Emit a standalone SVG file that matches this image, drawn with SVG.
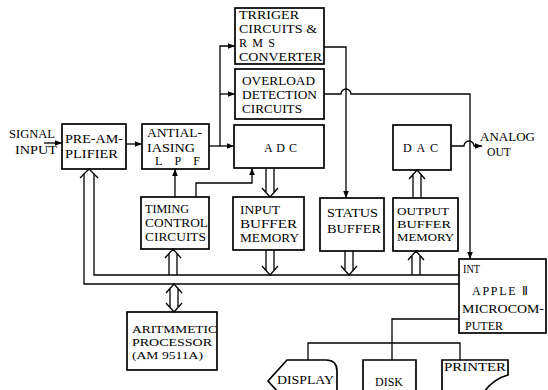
<svg xmlns="http://www.w3.org/2000/svg" width="548" height="390" viewBox="0 0 548 390">
<style>
.b{fill:none;stroke:#000;stroke-width:1.7}
.l{fill:none;stroke:#000;stroke-width:1.3}
text{font-family:"Liberation Serif","Times New Roman",serif;font-size:12px;fill:#000}
.s{font-size:11px}
</style>
<defs>
<marker id="a" viewBox="0 0 10 10" refX="10" refY="5" markerWidth="7" markerHeight="7" markerUnits="userSpaceOnUse" orient="auto">
<path d="M0,1 L10,5 L0,9 Z" fill="#000"/>
</marker>
</defs>
<rect width="548" height="390" fill="#fff"/>

<g id="signal-input">
<text x="9" y="138" textLength="46" lengthAdjust="spacingAndGlyphs">SIGNAL</text>
<text x="15" y="154" textLength="42" lengthAdjust="spacingAndGlyphs">INPUT</text>
</g>
<g id="pre-amplifier">
<rect class="b" x="62" y="124" width="64" height="45"/>
<text x="65" y="143" textLength="58" lengthAdjust="spacingAndGlyphs">PRE-AM-</text>
<text x="65" y="158" textLength="53" lengthAdjust="spacingAndGlyphs">PLIFIER</text>
</g>
<g id="antialiasing-lpf">
<rect class="b" x="142" y="124" width="67" height="45"/>
<text x="147" y="137" textLength="55" lengthAdjust="spacingAndGlyphs">ANTIAL-</text>
<text x="147" y="152" textLength="48" lengthAdjust="spacingAndGlyphs">IASING</text>
<text x="155" y="165" textLength="45" lengthAdjust="spacing">L P F</text>
</g>
<g id="trigger-rms">
<rect class="b" x="235" y="8" width="89" height="56"/>
<text x="239" y="19" textLength="60" lengthAdjust="spacingAndGlyphs">TRRIGER</text>
<text x="239" y="33" textLength="78" lengthAdjust="spacingAndGlyphs">CIRCUITS &amp;</text>
<text x="239" y="47" textLength="36" lengthAdjust="spacing">R M S</text>
<text x="239" y="61" textLength="83" lengthAdjust="spacingAndGlyphs">CONVERTER</text>
</g>
<g id="overload">
<rect class="b" x="235" y="69" width="89" height="50"/>
<text x="242" y="85" textLength="73" lengthAdjust="spacingAndGlyphs">OVERLOAD</text>
<text x="242" y="99" textLength="75" lengthAdjust="spacingAndGlyphs">DETECTION</text>
<text x="242" y="113" textLength="60" lengthAdjust="spacingAndGlyphs">CIRCUITS</text>
</g>
<g id="adc">
<rect class="b" x="234" y="125" width="90" height="43"/>
<text x="264" y="152" textLength="33" lengthAdjust="spacing">A D C</text>
</g>
<g id="dac">
<rect class="b" x="393" y="125" width="58" height="45"/>
<text x="403" y="152" textLength="35" lengthAdjust="spacing">D A C</text>
</g>
<g id="analog-out">
<text x="480" y="141" textLength="55" lengthAdjust="spacingAndGlyphs">ANALOG</text>
<text x="487" y="156" textLength="24" lengthAdjust="spacingAndGlyphs">OUT</text>
</g>
<g id="timing-control">
<rect class="b" x="141" y="197" width="68" height="52"/>
<text x="145" y="213" textLength="44" lengthAdjust="spacingAndGlyphs">TIMING</text>
<text x="145" y="227" textLength="63" lengthAdjust="spacingAndGlyphs">CONTROL</text>
<text x="145" y="241" textLength="61" lengthAdjust="spacingAndGlyphs">CIRCUITS</text>
</g>
<g id="input-buffer">
<rect class="b" x="233" y="197" width="71" height="53"/>
<text x="240" y="214" textLength="40" lengthAdjust="spacingAndGlyphs">INPUT</text>
<text x="240" y="228" textLength="57" lengthAdjust="spacingAndGlyphs">BUFFER</text>
<text x="240" y="242" textLength="59" lengthAdjust="spacingAndGlyphs">MEMORY</text>
</g>
<g id="status-buffer">
<rect class="b" x="320" y="198" width="64" height="53"/>
<text x="327" y="217" textLength="51" lengthAdjust="spacingAndGlyphs">STATUS</text>
<text x="327" y="233" textLength="54" lengthAdjust="spacingAndGlyphs">BUFFER</text>
</g>
<g id="output-buffer">
<rect class="b" x="393" y="198" width="65" height="53"/>
<text class="s" x="397" y="215" textLength="52" lengthAdjust="spacingAndGlyphs">OUTPUT</text>
<text class="s" x="397" y="228" textLength="54" lengthAdjust="spacingAndGlyphs">BUFFER</text>
<text class="s" x="397" y="241" textLength="57" lengthAdjust="spacingAndGlyphs">MEMORY</text>
</g>
<g id="apple-ii">
<rect class="b" x="459" y="259" width="87" height="74"/>
<text x="463" y="273" textLength="17" lengthAdjust="spacingAndGlyphs">INT</text>
<text x="472" y="295" textLength="56" lengthAdjust="spacing">APPLE Ⅱ</text>
<text x="462" y="313" textLength="82" lengthAdjust="spacingAndGlyphs">MICROCOM-</text>
<text x="465" y="330" textLength="38" lengthAdjust="spacingAndGlyphs">PUTER</text>
</g>
<g id="arithmetic-processor">
<rect class="b" x="127" y="312" width="90" height="58"/>
<text class="s" x="132" y="333" textLength="85" lengthAdjust="spacingAndGlyphs">ARITMMETIC</text>
<text class="s" x="132" y="346" textLength="80" lengthAdjust="spacingAndGlyphs">PROCESSOR</text>
<text class="s" x="132" y="359" textLength="71" lengthAdjust="spacingAndGlyphs">(AM 9511A)</text>
</g>
<g id="display">
<path class="b" d="M278,392 L268,381 L287,360 H326 Q337,360 337,371 V392"/>
<text x="277" y="384" textLength="57" lengthAdjust="spacingAndGlyphs">DISPLAY</text>
</g>
<g id="disk">
<path class="b" d="M363,392 V360 H416 V392"/>
<text x="375" y="386" textLength="28" lengthAdjust="spacingAndGlyphs">DISK</text>
</g>
<g id="printer">
<path class="b" d="M442,392 V360 H508 V375 C500,377 490,383 484,392"/>
<text x="444" y="371" textLength="62" lengthAdjust="spacingAndGlyphs">PRINTER</text>
</g>

<g id="connectors" class="l">
<line x1="44" y1="143" x2="62" y2="143" marker-end="url(#a)"/>
<line x1="126" y1="144" x2="142" y2="144" marker-end="url(#a)"/>
<line x1="209" y1="146" x2="234" y2="146" marker-end="url(#a)"/>
<path d="M220,146 V46 H235" marker-end="url(#a)"/>
<line x1="220" y1="94" x2="235" y2="94" marker-end="url(#a)"/>
<path d="M324,47 H346 V198" marker-end="url(#a)"/>
<path d="M324,94 H341 A5,5 0 0 1 351,94 H470 V259" marker-end="url(#a)"/>
<path d="M451,146 H464 A5,5 0 0 1 474,146 H482" marker-end="url(#a)"/>
<line x1="175" y1="197" x2="175" y2="169" marker-end="url(#a)"/>
<path d="M196,197 V183 H252 V168" marker-end="url(#a)"/>
<path d="M459,275 H94 V173.5"/>
<path d="M459,284 H84 V173.5"/>
<path d="M80,178 L89,169 L98,178"/>
<path d="M266,168 V192.5 M274,168 V192.5 M262,188 L270,197 L278,188"/>
<path d="M266,250 V270.5 M274,250 V270.5 M262,266 L270,275 L278,266"/>
<path d="M345,251 V270.5 M353,251 V270.5 M341,266 L349,275 L357,266"/>
<path d="M412,275 V255.5 M420,275 V255.5 M408,260 L416,251 L424,260"/>
<path d="M413,198 V174.5 M421,198 V174.5 M409,179 L417,170 L425,179"/>
<path d="M169,275 V253.5 M177,275 V253.5 M165,258 L173,249 L181,258"/>
<path d="M170,288.5 V307.5 M178,288.5 V307.5 M166,293 L174,284 L182,293 M166,303 L174,312 L182,303"/>
<path d="M459,319 H392 V360"/>
<path d="M308,360 V343 H460 V360"/>
</g>
</svg>
